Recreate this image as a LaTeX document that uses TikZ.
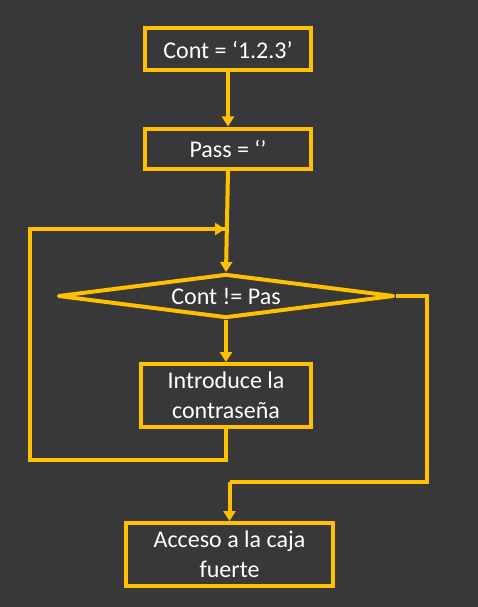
\documentclass[tikz,border=0pt]{standalone}
\usepackage{fontspec}
\setmainfont{Carlito}
\usetikzlibrary{arrows.meta,shapes.geometric}
\definecolor{board}{RGB}{56,56,58}
\definecolor{chalkyellow}{RGB}{255,192,0}
\begin{document}
\begin{tikzpicture}[x=1pt,y=-1pt,
  every node/.style={text=white,font=\fontsize{24}{30}\selectfont,align=center,inner sep=0pt},
  box/.style={draw=chalkyellow,line width=4pt,rectangle},
  dec/.style={draw=chalkyellow,line width=4pt,line join=round,diamond,shape aspect=7.7,minimum width=336pt,minimum height=44pt},
  conn/.style={draw=chalkyellow,line width=4pt},
  arr/.style={conn,-{Triangle[width=12pt,length=10pt]}}]
\fill[board] (0,0) rectangle (478,607);
\useasboundingbox (0,0) rectangle (478,607);
\node[box,minimum width=166pt,minimum height=42pt] (b1) at (228,49.5) {Cont = ‘1.2.3’};
\node[box,minimum width=166pt,minimum height=40pt] (b2) at (228,148.5) {Pass = ‘’};
\node[dec] (d) at (226,296) {Cont != Pas};
\node[box,minimum width=170pt,minimum height=63pt] (b3) at (226,395.5) {Introduce la\\contraseña};
\node[box,minimum width=207pt,minimum height=63pt] (b4) at (229.5,554.5) {Acceso a la caja\\fuerte};
\coordinate (j) at (226,229);
\coordinate (lb) at (30,460);
\coordinate (lt) at (30,229);
\coordinate (r1) at (427,296);
\coordinate (r2) at (427,482);
\coordinate (r3) at (229.5,482);
\draw[arr] (b1.south) -- (b2.north);
\draw[arr] (b2.south) -- (d.north);
\draw[arr] (d.south) -- (b3.north);
\draw[conn,line join=miter] (b3.south) -- (b3.south |- lb) -- (lb) -- (lt) -- (lt -| j);
\draw[arr] (lt) -- ([xshift=-1pt]j);
\draw[conn,line join=miter] (d.east) -- (r1) -- (r2) -- (r3);
\draw[arr] (r3) -- (b4.north);
\end{tikzpicture}
\end{document}
